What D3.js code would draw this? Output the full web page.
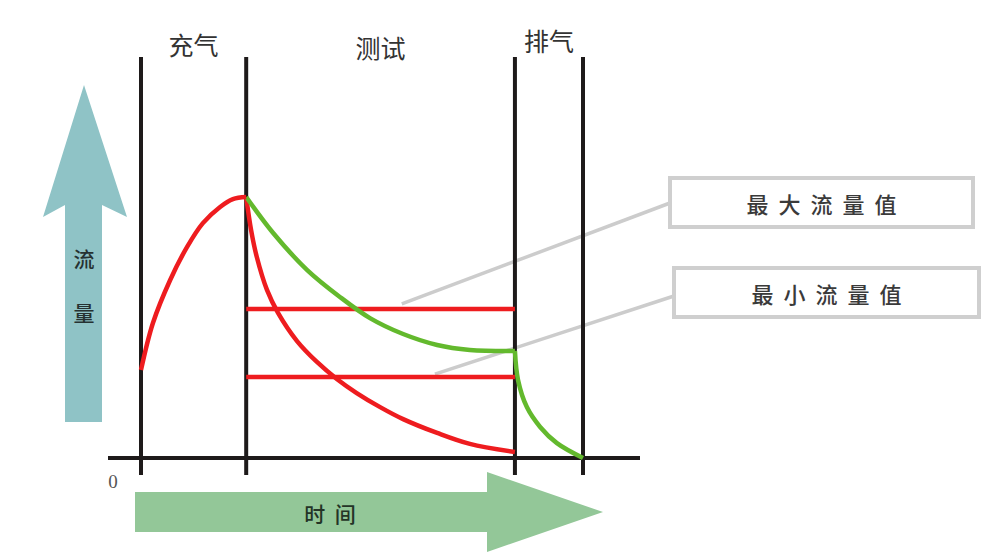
<!DOCTYPE html>
<html>
<head>
<meta charset="utf-8">
<script src="https://cdn.jsdelivr.net/npm/d3@7/dist/d3.min.js"></script>
<style>
  html, body { margin: 0; padding: 0; background: #fff; }
  svg { display: block; }
  text { font-family: "Noto Sans CJK SC", "Noto Sans", sans-serif; }
</style>
</head>
<body>
<svg id="chart" width="1000" height="556"></svg>
<script>
// ---------- data ----------
const phaseLabels = ["充气", "测试", "排气"];
const phaseBounds = [0, 2.38, 8.46, 10];          // time units
const yAxisLabel = ["流", "量"];
const xAxisLabel = "时  间";
const originLabel = "0";

// charging curve (red)
const chargeTime = [0, 0.27, 0.66, 1.04, 1.40, 1.79, 2.08, 2.38];
const chargeFlow = [33.7, 51.7, 68.2, 80.8, 90.0, 96.2, 99.2, 100];

// test phase, leaking part (green)
const testGreenTime = [2.38, 2.99, 3.76, 4.50, 5.18, 5.93, 6.70, 7.44, 8.46];
const testGreenFlow = [100, 86.2, 72.0, 61.7, 53.6, 47.5, 43.3, 41.4, 41.0];

// test phase, fast decay (red)
const testRedTime = [2.38, 2.49, 2.62, 2.85, 3.10, 3.53, 3.98, 4.43, 4.88, 5.41, 5.93, 6.70, 7.44, 8.46];
const testRedFlow = [100, 87.4, 77.0, 64.4, 55.6, 44.8, 36.8, 30.3, 24.9, 19.5, 14.9, 9.6, 5.4, 2.3];

// exhaust curve (green)
const exhaustTime = [8.46, 8.53, 8.73, 9.03, 9.41, 10];
const exhaustFlow = [41.0, 29.9, 19.5, 11.9, 5.7, 0];

// thresholds
const thresholdNames = ["最大流量值", "最小流量值"];
const thresholdFlow = [57.1, 31.0];
const leaderAnchorTime = [5.90, 6.65];

// ---------- scales ----------
const svg = d3.select("#chart");
const x = d3.scaleLinear().domain([0, 10]).range([141, 583]);
const y = d3.scaleLinear().domain([0, 100]).range([458, 197]);

const RED = "#ee1c1f", GREEN = "#63b92d", BLACK = "#1e1a1a";

// ---------- big arrows ----------
const leftArrow = [[84,85],[127,217],[102,205],[102,422],[65,422],[65,205],[43,217]];
svg.append("polygon").attr("points", leftArrow.map(p => p.join(",")).join(" "))
  .attr("fill", "#8fc3c6");
const bottomArrow = [[135,492],[487,492],[487,472],[603,512],[487,552],[487,532],[135,532]];
svg.append("polygon").attr("points", bottomArrow.map(p => p.join(",")).join(" "))
  .attr("fill", "#93c798");

yAxisLabel.forEach((t, i) => {
  svg.append("text").attr("x", 84).attr("y", 258 + i * 54)
    .attr("text-anchor", "middle").attr("dominant-baseline", "central")
    .attr("font-size", 21).attr("font-weight", 500).attr("fill", "#263232").text(t);
});
svg.append("text").attr("x", 330).attr("y", 513)
  .attr("text-anchor", "middle").attr("dominant-baseline", "central")
  .attr("font-size", 21).attr("font-weight", 500).attr("fill", "#243426")
  .style("white-space", "pre").text(xAxisLabel);

// ---------- callout leaders (under lines) ----------
const boxes = [
  {x0: 670, y0: 178, x1: 973, y1: 227},
  {x0: 674, y0: 268, x1: 979, y1: 317}
];
const leaderEndY = [203, 296];
thresholdFlow.forEach((f, i) => {
  svg.append("line")
    .attr("x1", x(leaderAnchorTime[i])).attr("y1", y(f) - (i === 0 ? 5 : 3))
    .attr("x2", boxes[i].x0).attr("y2", leaderEndY[i])
    .attr("stroke", "#cccccc").attr("stroke-width", 3.5);
});

// ---------- baseline & phase lines ----------
svg.append("line").attr("x1", 108).attr("x2", 640)
  .attr("y1", y(0)).attr("y2", y(0))
  .attr("stroke", BLACK).attr("stroke-width", 4);
phaseBounds.forEach(t => {
  svg.append("line").attr("x1", x(t)).attr("x2", x(t))
    .attr("y1", 57).attr("y2", 475)
    .attr("stroke", BLACK).attr("stroke-width", 4);
});

// phase labels
const phaseLabelY = [44, 47, 40];
phaseLabels.forEach((t, i) => {
  svg.append("text")
    .attr("x", (x(phaseBounds[i]) + x(phaseBounds[i + 1])) / 2)
    .attr("y", phaseLabelY[i])
    .attr("text-anchor", "middle").attr("dominant-baseline", "central")
    .attr("font-size", 25).attr("fill", "#333").text(t);
});

svg.append("text").attr("x", 113).attr("y", 481)
  .attr("text-anchor", "middle").attr("dominant-baseline", "central")
  .style("font-family", "'Liberation Serif', 'DejaVu Serif', serif")
  .attr("font-size", 19).attr("fill", "#555").text(originLabel);

// ---------- threshold lines ----------
thresholdFlow.forEach(f => {
  svg.append("line").attr("x1", x(phaseBounds[1])).attr("x2", x(phaseBounds[2]))
    .attr("y1", y(f)).attr("y2", y(f))
    .attr("stroke", RED).attr("stroke-width", 4.5);
});

// ---------- curves ----------
const lineCR = d3.line().x(d => x(d[0])).y(d => y(d[1])).curve(d3.curveCatmullRom.alpha(0.5));
const zip = (a, b) => a.map((v, i) => [v, b[i]]);

svg.append("path").datum(zip(testRedTime, testRedFlow)).attr("d", lineCR)
  .attr("fill", "none").attr("stroke", RED).attr("stroke-width", 4.5);
svg.append("path").datum(zip(testGreenTime, testGreenFlow)).attr("d", lineCR)
  .attr("fill", "none").attr("stroke", GREEN).attr("stroke-width", 4.5);
svg.append("path").datum(zip(exhaustTime, exhaustFlow)).attr("d", lineCR)
  .attr("fill", "none").attr("stroke", GREEN).attr("stroke-width", 4.5);
svg.append("path").datum(zip(chargeTime, chargeFlow)).attr("d", lineCR)
  .attr("fill", "none").attr("stroke", RED).attr("stroke-width", 4.5);

// ---------- callout boxes ----------
boxes.forEach((b, i) => {
  svg.append("rect").attr("x", b.x0).attr("y", b.y0)
    .attr("width", b.x1 - b.x0).attr("height", b.y1 - b.y0)
    .attr("fill", "#fff").attr("stroke", "#cfcfcf").attr("stroke-width", 4);
  svg.append("text")
    .attr("x", (b.x0 + b.x1) / 2 + 5).attr("y", (b.y0 + b.y1) / 2)
    .attr("text-anchor", "middle").attr("dominant-baseline", "central")
    .attr("font-size", 22).attr("letter-spacing", 10).attr("fill", "#3a3a3a")
    .attr("font-weight", 500)
    .text(thresholdNames[i]);
});
</script>
</body>
</html>
